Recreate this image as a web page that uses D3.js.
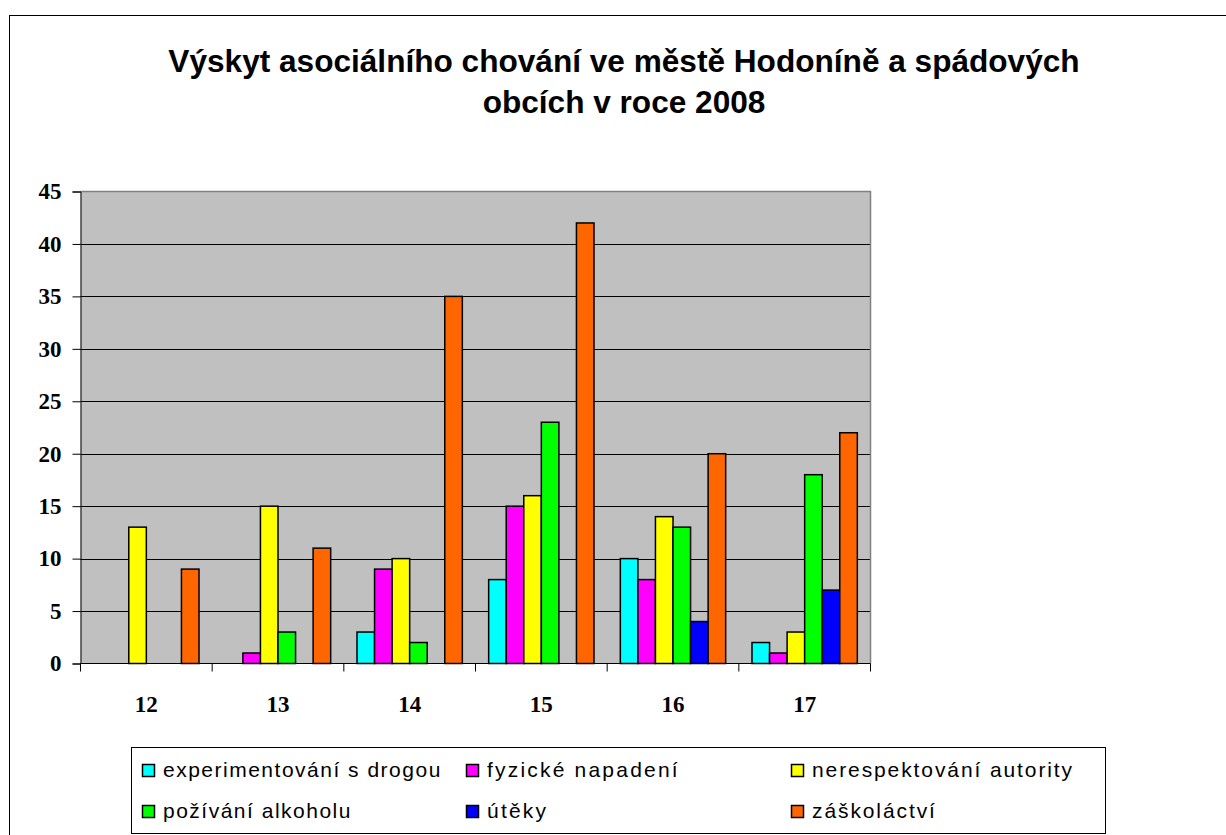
<!DOCTYPE html>
<html>
<head>
  <meta charset="UTF-8">
  <title>Výskyt asociálního chování</title>
  <style>
    body { margin: 0; background: #fff; }
    svg { display: block; }
  </style>
</head>
<body>
<svg></svg>
<script src="https://d3js.org/d3.v7.min.js"></script>
<script>
    let width = 1226, height = 835;

    // Data
    var ages = ["12", "13", "14", "15", "16", "17"];
    var seriesNames = ["experimentování s drogou", "fyzické napadení", "nerespektování autority",
                       "požívání alkoholu", "útěky", "záškoláctví"];
    var seriesColors = ["#00FFFF", "#FF00FF", "#FFFF00", "#00FF00", "#0000FF", "#FF6600"];
    var drogy    = [0, 0, 3, 8, 10, 2];
    var napadeni = [0, 1, 9, 15, 8, 1];
    var autorita = [13, 15, 10, 16, 14, 3];
    var alkohol  = [0, 3, 2, 23, 13, 18];
    var utekty   = [0, 0, 0, 0, 4, 7];
    var zaskolactvi = [9, 11, 35, 42, 20, 22];
    var seriesValues = [drogy, napadeni, autorita, alkohol, utekty, zaskolactvi];
    var yTicks = [0, 5, 10, 15, 20, 25, 30, 35, 40, 45];

    let svg = d3.select("svg").attr("width", width).attr("height", height);

    // chart border
    svg.append("rect")
        .attr("x", 9.5).attr("y", 15.5)
        .attr("width", 1300).attr("height", 900)
        .attr("fill", "none").attr("stroke", "#000").attr("stroke-width", 1);

    // Title
    var titleLines = ["Výskyt asociálního chování ve městě Hodoníně a spádových", "obcích v roce 2008"];
    svg.selectAll("text.title")
        .data(titleLines)
        .enter().append("text")
        .attr("class", "title")
        .attr("x", 624).attr("y", (d, i) => 72 + i * 41)
        .attr("text-anchor", "middle")
        .style("font-family", "Liberation Sans, Arial")
        .style("font-weight", "bold")
        .style("font-size", "31.6px")
        .text(d => d);

    // Plot area
    var pLeft = 80.5, pRight = 870.5, pTop = 191.5, pBottom = 663.5;

    var x0 = d3.scaleBand().domain(ages).range([pLeft, pRight]).padding(0);
    var x1 = d3.scaleBand().domain(d3.range(seriesNames.length))
        .range([0, x0.bandwidth()]).paddingInner(0).paddingOuter(0.75);
    var y = d3.scaleLinear().domain([0, 45]).range([pBottom, pTop]);

    svg.append("rect")
        .attr("x", pLeft).attr("y", pTop)
        .attr("width", pRight - pLeft).attr("height", pBottom - pTop)
        .attr("fill", "#C0C0C0");

    // gridlines
    svg.append("g")
        .selectAll("line")
        .data(yTicks.filter(d => d > 0 && d < 45))
        .enter().append("line")
        .attr("x1", pLeft).attr("x2", pRight)
        .attr("y1", d => Math.round(y(d)) + 0.5).attr("y2", d => Math.round(y(d)) + 0.5)
        .attr("stroke", "#000").attr("stroke-width", 1);

    // plot border top / right
    svg.append("path")
        .attr("d", "M" + pLeft + "," + pTop + "H" + pRight + "V" + pBottom)
        .attr("fill", "none").attr("stroke", "#808080").attr("stroke-width", 1.5);

    // bars
    var groups = svg.append("g").selectAll("g")
        .data(ages)
        .enter().append("g")
        .attr("transform", d => "translate(" + x0(d) + ",0)");

    groups.selectAll("rect")
        .data((d, i) => seriesValues.map((s, j) => ({ series: j, value: s[i] })).filter(e => e.value > 0))
        .enter().append("rect")
        .attr("x", d => x1(d.series))
        .attr("width", x1.bandwidth())
        .attr("y", d => y(d.value))
        .attr("height", d => y(0) - y(d.value))
        .attr("fill", d => seriesColors[d.series])
        .attr("stroke", "#000")
        .attr("stroke-width", 1.5);

    // Y axis
    var yAxis = svg.append("g")
        .attr("transform", "translate(" + pLeft + ",0)")
        .call(d3.axisLeft(y).tickValues(yTicks).tickSize(8).tickPadding(11));
    yAxis.selectAll("text")
        .style("font-family", "Liberation Serif, Times New Roman")
        .style("font-weight", "bold")
        .style("font-size", "23px")
        .attr("fill", "#000");
    yAxis.selectAll("line").attr("stroke", "#000");
    yAxis.select(".domain").attr("stroke", "#000");

    // X axis
    var xAxisG = svg.append("g")
        .attr("transform", "translate(0," + pBottom + ")");
    xAxisG.append("line")
        .attr("x1", pLeft).attr("x2", pRight).attr("stroke", "#000");
    xAxisG.selectAll("line.tick")
        .data(ages.map(d => x0(d)).concat([pRight]))
        .enter().append("line")
        .attr("class", "tick")
        .attr("x1", d => d).attr("x2", d => d)
        .attr("y1", 0).attr("y2", 8)
        .attr("stroke", "#000");
    xAxisG.selectAll("text")
        .data(ages)
        .enter().append("text")
        .attr("x", d => x0(d) + x0.bandwidth() / 2)
        .attr("y", 48)
        .attr("text-anchor", "middle")
        .style("font-family", "Liberation Serif, Times New Roman")
        .style("font-weight", "bold")
        .style("font-size", "23px")
        .text(d => d);

    // Legend
    svg.append("rect")
        .attr("x", 131.5).attr("y", 747.5)
        .attr("width", 974).attr("height", 86)
        .attr("fill", "#fff").attr("stroke", "#000").attr("stroke-width", 1);

    var legendCols = [142, 466, 791];
    var legendSpacing = [1.5, 2.2, 1.9];
    var legendRows = [764, 805];
    var legend = svg.selectAll("g.legend")
        .data(seriesNames)
        .enter().append("g")
        .attr("class", "legend")
        .attr("transform", (d, i) => "translate(" + legendCols[i % 3] + "," + legendRows[Math.floor(i / 3)] + ")");

    legend.append("rect")
        .attr("x", 0.5).attr("y", 0.5)
        .attr("width", 12).attr("height", 12)
        .attr("fill", (d, i) => seriesColors[i])
        .attr("stroke", "#000").attr("stroke-width", 1.5);

    legend.append("text")
        .attr("x", 21).attr("y", 13)
        .style("font-family", "Liberation Sans, Arial")
        .style("font-size", "21px")
        .style("letter-spacing", (d, i) => legendSpacing[i % 3] + "px")
        .text(d => d);
</script>
</body>
</html>
